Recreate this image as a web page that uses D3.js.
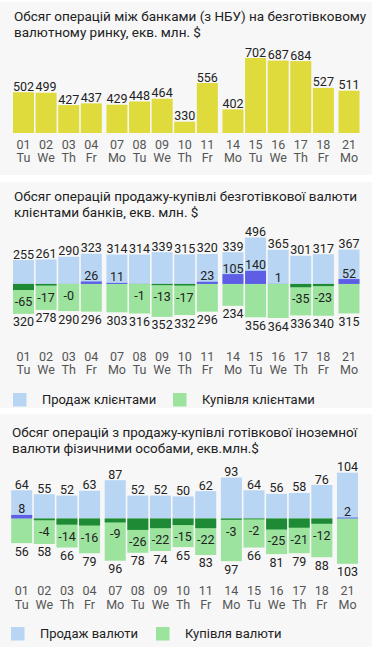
<!DOCTYPE html>
<html><head><meta charset="utf-8">
<script src="https://cdn.jsdelivr.net/npm/d3@7"></script>
<style>
html,body{margin:0;padding:0;background:#ffffff;}
svg{display:block;font-family:Roboto,"Noto Sans",sans-serif;}
</style></head>
<body><svg id="c" width="372" height="660"></svg>
<script>
const dates = ["01","02","03","04","07","08","09","10","11","14","15","16","17","18","21"];
const weekdays = ["Tu","We","Th","Fr","Mo","Tu","We","Th","Fr","Mo","Tu","We","Th","Fr","Mo"];
const interbank = [502,499,427,437,429,448,464,330,556,402,702,687,684,527,511];
const clientSell = [255,261,290,323,314,314,339,315,320,339,496,365,301,317,367];
const clientBuy  = [320,278,290,296,303,316,352,332,296,234,356,364,336,340,315];
const clientNet  = [-65,-17,-0.3,26,11,-1,-13,-17,23,105,140,1,-35,-23,52];
const cashSell = [64,55,52,63,87,52,52,50,62,93,64,56,58,76,104];
const cashBuy  = [56,58,66,79,96,78,74,65,83,97,66,81,79,88,103];
const cashNet  = [8,-4,-14,-16,-9,-26,-22,-15,-22,-3,-2,-25,-21,-12,2];
const titles = [
  ["Обсяг операцій між банками (з НБУ) на безготівковому","валютному ринку, екв. млн. $"],
  ["Обсяг операцій продажу-купівлі безготівкової валюти","клієнтами банків, екв. млн. $"],
  ["Обсяг операцій з продажу-купівлі готівкової іноземної","валюти фізичними особами, екв.млн.$"]
];
const legend2 = ["Продаж клієнтами","Купівля клієнтами"];
const legend3 = ["Продаж валюти","Купівля валюти"];

const C = {yellow:"#dfdb3c", blue:"#b8d5f3", green:"#9ce39e", dblue:"#5d5de6", dgreen:"#1e8a36", text:"#222", axis:"#555", panel:"#f7f7f7"};
const svg = d3.select("#c");

// index positions with a small gap at each week break
const gapF = 0.134;
let br = 0;
const pos = weekdays.map((w,i)=>{ if(i>0 && w==="Mo") br++; return i + gapF*br; });
const maxPos = pos[pos.length-1];
const BW = 21;

function fmt(v){ const r=Math.round(v); return (v<0?"-":"")+Math.abs(r); }

// panels
[[2,175],[182,408],[414,647]].forEach(([a,b])=>{
  svg.append("rect").attr("x",0).attr("y",a).attr("width",372).attr("height",b-a).attr("fill",C.panel);
});

function title(lines, x, y){
  const t = svg.append("text").attr("x",x).attr("y",y).attr("fill",C.text).style("font-size","13.5px");
  lines.forEach((l,i)=>t.append("tspan").attr("x",x).attr("dy",i?16:0).text(l));
}
function dateAxis(x, y){
  const g = svg.append("g").attr("fill",C.axis).style("font-size","12.5px").attr("text-anchor","middle");
  g.selectAll(".d").data(dates).join("text").attr("x",(d,i)=>x(pos[i])).attr("y",y).text(d=>d);
  g.selectAll(".w").data(weekdays).join("text").attr("x",(d,i)=>x(pos[i])).attr("y",y+13.5).text(d=>d);
}

// ---- Chart 1
title(titles[0],14,21);
{
  const x = d3.scaleLinear().domain([0,maxPos]).range([23.5,349]);
  const y = d3.scaleLinear().domain([d3.min(interbank)*0.8, d3.max(interbank)]).range([133,58]);
  svg.append("g").selectAll("rect").data(interbank).join("rect")
    .attr("x",(d,i)=>x(pos[i])-BW/2).attr("width",BW)
    .attr("y",d=>y(d)).attr("height",d=>y.range()[0]-y(d)).attr("fill",C.yellow);
  svg.append("g").attr("fill",C.text).style("font-size","12.5px").attr("text-anchor","middle")
    .selectAll("text").data(interbank).join("text")
    .attr("x",(d,i)=>x(pos[i])).attr("y",d=>y(d)-1.5).text(d=>fmt(d));
  dateAxis(x,148.5);
}

function diverging(sell, buy, net, xr, yDomRange, axisY, legY, legX, labels){
  const x = d3.scaleLinear().domain([0,maxPos]).range(xr);
  const y = d3.scaleLinear().domain([-d3.max(buy), d3.max(sell)]).range(yDomRange);
  const g = svg.append("g");
  g.selectAll(".s").data(sell).join("rect").attr("x",(d,i)=>x(pos[i])-BW/2).attr("width",BW)
    .attr("y",d=>y(d)).attr("height",d=>y(0)-y(d)).attr("fill",C.blue);
  g.selectAll(".b").data(buy).join("rect").attr("x",(d,i)=>x(pos[i])-BW/2).attr("width",BW)
    .attr("y",y(0)).attr("height",d=>y(-d)-y(0)).attr("fill",C.green);
  g.selectAll(".n").data(net).join("rect").attr("x",(d,i)=>x(pos[i])-BW/2).attr("width",BW)
    .attr("y",d=>Math.min(y(0),y(d))).attr("height",d=>Math.abs(y(d)-y(0)))
    .attr("fill",d=>d>=0?C.dblue:C.dgreen);
  const t = svg.append("g").attr("fill",C.text).style("font-size","12.5px").attr("text-anchor","middle");
  t.selectAll(".sl").data(sell).join("text").attr("x",(d,i)=>x(pos[i])).attr("y",d=>y(d)-1.5).text(d=>fmt(d));
  t.selectAll(".bl").data(buy).join("text").attr("x",(d,i)=>x(pos[i])).attr("y",d=>y(-d)+12.5).text(d=>fmt(d));
  t.selectAll(".nl").data(net).join("text").attr("x",(d,i)=>x(pos[i]))
    .attr("y",d=>d>=0? y(d)-1.5 : y(d)+16).text(d=>fmt(d));
  dateAxis(x,axisY);
  const lg = svg.append("g").style("font-size","13px").attr("fill",C.text);
  [[C.blue,labels[0],legX[0]],[C.green,labels[1],legX[1]]].forEach(([c,l,lx])=>{
    lg.append("rect").attr("x",lx).attr("y",legY-6.5).attr("width",13.5).attr("height",13.5).attr("fill",c);
    lg.append("text").attr("x",lx+29).attr("y",legY+4.5).text(l);
  });
}

// ---- Chart 2
title(titles[1],14,201);
diverging(clientSell, clientBuy, clientNet, [23.5,349], [318, 237.5], 360.5, 399.5, [13,173], legend2);

// ---- Chart 3
title(titles[2],12,437);
diverging(cashSell, cashBuy, cashNet, [21.7,347.5], [563.8, 472.7], 595, 633.5, [11,156], legend3);
</script></body></html>
